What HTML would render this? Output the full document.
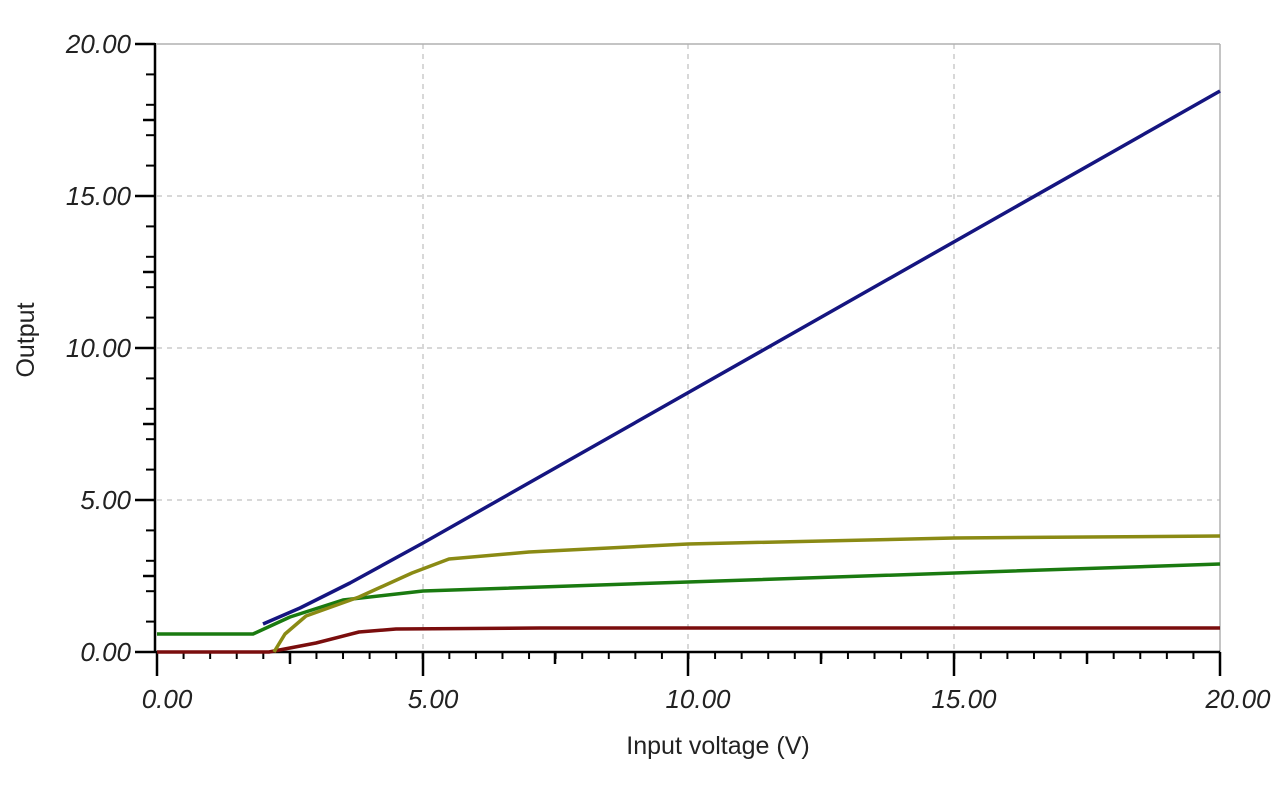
<!DOCTYPE html>
<html><head><style>body{margin:0;background:#fff}svg{display:block}</style></head><body>
<svg width="1280" height="787" xmlns="http://www.w3.org/2000/svg" font-family="Liberation Sans, sans-serif">
<defs>
<pattern id="px" width="26.575" height="8" patternUnits="userSpaceOnUse" x="157" y="652"><rect x="-1" y="0" width="2" height="8" fill="#000"/><rect x="25.575" y="0" width="2" height="8" fill="#000"/></pattern>
<pattern id="py" width="10" height="30.4" patternUnits="userSpaceOnUse" x="146" y="652"><rect x="0" y="-1" width="10" height="2" fill="#000"/><rect x="0" y="29.4" width="10" height="2" fill="#000"/></pattern>
</defs>
<rect width="1280" height="787" fill="#fff"/>
<g stroke="#b0b0b0" stroke-width="1" stroke-dasharray="5,5">
<line x1="157" y1="196" x2="1220" y2="196"/><line x1="157" y1="348" x2="1220" y2="348"/><line x1="157" y1="500" x2="1220" y2="500"/>
<line x1="423" y1="44" x2="423" y2="652"/><line x1="688" y1="44" x2="688" y2="652"/><line x1="954" y1="44" x2="954" y2="652"/>
</g>
<g stroke="#b0b0b0" stroke-width="1.5"><line x1="157" y1="44" x2="1220" y2="44"/><line x1="1220" y1="44" x2="1220" y2="652"/></g>
<rect x="157" y="652" width="1064" height="7" fill="url(#px)"/>
<rect x="146" y="44" width="9" height="608" fill="url(#py)"/>
<g stroke="#000" stroke-width="2.5"><line x1="155" y1="43" x2="155" y2="652"/><line x1="155" y1="652" x2="1220" y2="652"/>
<line x1="157" y1="652" x2="157" y2="676"/><line x1="423" y1="652" x2="423" y2="676"/><line x1="688" y1="652" x2="688" y2="676"/><line x1="954" y1="652" x2="954" y2="676"/><line x1="1220" y1="652" x2="1220" y2="676"/>
<line x1="290" y1="652" x2="290" y2="664"/><line x1="555" y1="652" x2="555" y2="664"/><line x1="821" y1="652" x2="821" y2="664"/><line x1="1087" y1="652" x2="1087" y2="664"/>
<line x1="135" y1="44" x2="155" y2="44"/><line x1="135" y1="196" x2="155" y2="196"/><line x1="135" y1="348" x2="155" y2="348"/><line x1="135" y1="500" x2="155" y2="500"/><line x1="135" y1="652" x2="155" y2="652"/>
<line x1="143" y1="120" x2="155" y2="120"/><line x1="143" y1="272" x2="155" y2="272"/><line x1="143" y1="424" x2="155" y2="424"/><line x1="143" y1="576" x2="155" y2="576"/>
</g>
<g font-size="26" font-style="italic" fill="#222" text-anchor="end">
<text x="131" y="53">20.00</text><text x="131" y="205">15.00</text><text x="131" y="357">10.00</text><text x="131" y="509">5.00</text><text x="131" y="661">0.00</text>
</g>
<g font-size="26" font-style="italic" fill="#222" text-anchor="middle">
<text x="167" y="708">0.00</text><text x="433" y="708">5.00</text><text x="698" y="708">10.00</text><text x="964" y="708">15.00</text><text x="1238" y="708">20.00</text>
</g>
<text x="718" y="754" font-size="25" text-anchor="middle" fill="#222">Input voltage (V)</text>
<text transform="translate(34,340) rotate(-90)" font-size="25" text-anchor="middle" fill="#222">Output</text>
<g fill="none" stroke-width="3.5" stroke-linejoin="round">
<polyline stroke="#7a0d0d" points="157,652 269,652 316,643 359,632 396,629 540,628 1220,628"/>
<polyline stroke="#1a7a10" points="157,634 253,634 290,617 343,600 423,591 688,582 1220,564"/>
<polyline stroke="#8a8a14" points="274,652 285,634 306,616 359,597 412,573 449,559 529,552 688,544 954,538 1220,536"/>
<polyline stroke="#151580" points="263,624 300,608 350,583 423,543 1220,91"/>
</g>
</svg>
</body></html>
